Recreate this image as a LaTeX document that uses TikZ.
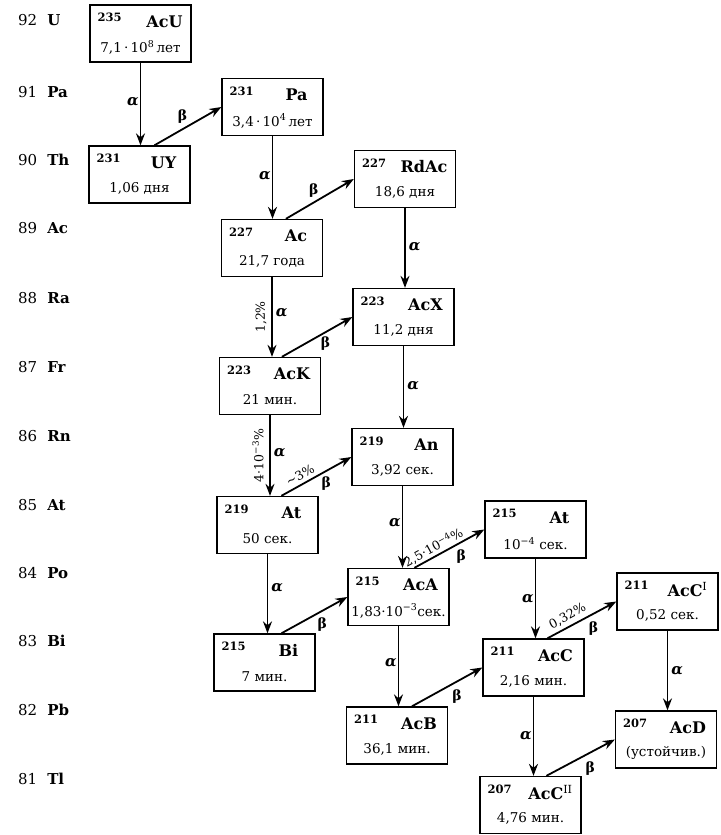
\documentclass[tikz,border=0pt]{standalone}
\usepackage{fontspec}
\setmainfont{DejaVu Serif}
\usetikzlibrary{arrows.meta}
\tikzset{
 box/.style={draw, line width=1.3pt, minimum width=101pt, minimum height=57pt, inner sep=0pt},
 mass/.style={font=\fontsize{11.5}{13}\selectfont\bfseries, inner sep=0pt, anchor=west},
 sym/.style={font=\fontsize{16}{18}\selectfont\bfseries, inner sep=0pt},
 hl/.style={font=\fontsize{13.5}{16}\selectfont, inner sep=0pt},
 el/.style={font=\fontsize{15}{17}\selectfont, anchor=west, inner sep=0pt},
 arr/.style={line width=1.8pt, -{Stealth[length=12pt,width=9pt,inset=4pt]}},
 al/.style={font=\fontsize{15}{17}\selectfont\bfseries\itshape, inner sep=1pt},
 bl/.style={font=\fontsize{14}{16}\selectfont\bfseries, inner sep=0pt},
 pc/.style={font=\fontsize{12.5}{14}\selectfont, inner sep=0.5pt},
}
\newcommand\isobox[6][24]{%
 \node[box] (#2) at (#3) {};
 \node[mass] (#2m) at ([xshift=8pt,yshift=-13pt]#2.north west) {#4};
 \node[sym] (#2s) at ([xshift=#1pt,yshift=-17pt]#2.north) {#5};
 \node[hl] (#2h) at ([yshift=-43pt]#2.north) {#6};
}
\begin{document}
\begin{tikzpicture}[x=1pt,y=-1pt]
\useasboundingbox (0,0) rectangle (720,835);
% element column
\node[el] (e92) at (18,20) {92\hspace{10pt}\textbf{U}};
\node[el] (e91) at (18,92) {91\hspace{10pt}\textbf{Pa}};
\node[el] (e90) at (18,160) {90\hspace{10pt}\textbf{Th}};
\node[el] (e89) at (18,228) {89\hspace{10pt}\textbf{Ac}};
\node[el] (e88) at (18,298) {88\hspace{10pt}\textbf{Ra}};
\node[el] (e87) at (18,367) {87\hspace{10pt}\textbf{Fr}};
\node[el] (e86) at (18,436) {86\hspace{10pt}\textbf{Rn}};
\node[el] (e85) at (18,505) {85\hspace{10pt}\textbf{At}};
\node[el] (e84) at (18,573) {84\hspace{10pt}\textbf{Po}};
\node[el] (e83) at (18,641) {83\hspace{10pt}\textbf{Bi}};
\node[el] (e82) at (18,710) {82\hspace{10pt}\textbf{Pb}};
\node[el] (e81) at (18,779) {81\hspace{10pt}\textbf{Tl}};
% boxes
\isobox{AcU}{140.5,33.5}{235}{AcU}{7,1\,·\,10\textsuperscript{8}\,лет}
\isobox{Pa}{272.5,107}{231}{Pa}{3,4\,·\,10\textsuperscript{4}\,лет}
\isobox{UY}{139.5,174.5}{231}{UY}{1,06 дня}
\isobox[19]{RdAc}{405,179}{227}{RdAc}{18,6 дня}
\isobox{Ac}{272,248}{227}{Ac}{21,7 года}
\isobox[22]{AcX}{403.5,317}{223}{AcX}{11,2 дня}
\isobox[22]{AcK}{270,386}{223}{AcK}{21 мин.}
\isobox{An}{402.5,457}{219}{An}{3,92 сек.}
\isobox{AtA}{267.5,525}{219}{At}{50 сек.}
\isobox[22]{AcA}{398.5,597}{215}{AcA}{1,83·10\textsuperscript{−3}сек.}
\isobox{Bi}{264.5,662.5}{215}{Bi}{7 мин.}
\isobox{AtB}{535.5,529.5}{215}{At}{10\textsuperscript{−4} сек.}
\isobox[20]{AcCi}{667.5,601.5}{211}{AcC\textsuperscript{\mdseries I}}{0,52 сек.}
\isobox[22]{AcC}{533.5,667.5}{211}{AcC}{2,16 мин.}
\isobox[22]{AcB}{397,735.5}{211}{AcB}{36,1 мин.}
\isobox[22]{AcD}{666,739.5}{207}{AcD}{(устойчив.)}
\isobox[20]{AcCii}{530.5,805}{207}{AcC\textsuperscript{\mdseries II}}{4,76 мин.}
% alpha decays
\draw[arr] (AcU.south) -- (AcU.south |- UY.north) node[al, pos=0.47, left] {α};
\draw[arr] (Pa.south) -- (Pa.south |- Ac.north) node[al, pos=0.48, left] {α};
\draw[arr] (RdAc.south) -- (RdAc.south |- AcX.north) node[al, pos=0.48, right=2pt] {α};
\draw[arr] (Ac.south) -- (Ac.south |- AcK.north) node[al, pos=0.45, right=2pt] {α}
  node[pc, pos=0.5, xshift=-11pt, rotate=90] {1,2\%};
\draw[arr] (AcX.south) -- (AcX.south |- An.north) node[al, pos=0.48, right=2pt] {α};
\draw[arr] (AcK.south) -- (AcK.south |- AtA.north) node[al, pos=0.47, right=2pt] {α}
  node[pc, pos=0.5, xshift=-12pt, rotate=90] {4·10\textsuperscript{−3}\%};
\draw[arr] (An.south) -- (An.south |- AcA.north) node[al, pos=0.45, left] {α};
\draw[arr] (AtA.south) -- (AtA.south |- Bi.north) node[al, pos=0.43, right=2pt] {α};
\draw[arr] (AcA.south) -- (AcA.south |- AcB.north) node[al, pos=0.46, left] {α};
\draw[arr] (AtB.south) -- (AtB.south |- AcC.north) node[al, pos=0.5, left] {α};
\draw[arr] (AcCi.south) -- (AcCi.south |- AcD.north) node[al, pos=0.5, right=2pt] {α};
\draw[arr] (AcC.south) -- (AcC.south |- AcCii.north) node[al, pos=0.5, left] {α};
% beta decays
\draw[arr] ([xshift=66pt]UY.north west) -- (Pa.west) node[bl, pos=0.42, yshift=13pt] {β};
\draw[arr] ([xshift=65pt]Ac.north west) -- (RdAc.west) node[bl, pos=0.41, yshift=12pt] {β};
\draw[arr] ([xshift=63pt]AcK.north west) -- (AcX.west) node[bl, pos=0.62, yshift=-11pt] {β};
\draw[arr] ([xshift=65pt]AtA.north west) -- (An.west) node[bl, pos=0.64, yshift=-13pt] {β}
  node[pc, pos=0.33, sloped, above=3pt] {∼3\%};
\draw[arr] ([xshift=68pt]Bi.north west) -- (AcA.west) node[bl, pos=0.62, yshift=-14pt] {β};
\draw[arr] ([xshift=67pt]AcA.north west) -- (AtB.west) node[bl, pos=0.67, yshift=-14pt] {β}
  node[pc, pos=0.33, sloped, above=1pt] {2,5·10\textsuperscript{−4}\%};
\draw[arr] ([xshift=66pt]AcB.north west) -- (AcC.west) node[bl, pos=0.64, yshift=-15pt] {β};
\draw[arr] ([xshift=65pt]AcC.north west) -- (AcCi.west) node[bl, pos=0.67, yshift=-15pt] {β}
  node[pc, pos=0.36, sloped, above=3pt] {0,32\%};
\draw[arr] ([xshift=67pt]AcCii.north west) -- (AcD.west) node[bl, pos=0.64, yshift=-16pt] {β};
\end{tikzpicture}
\end{document}
